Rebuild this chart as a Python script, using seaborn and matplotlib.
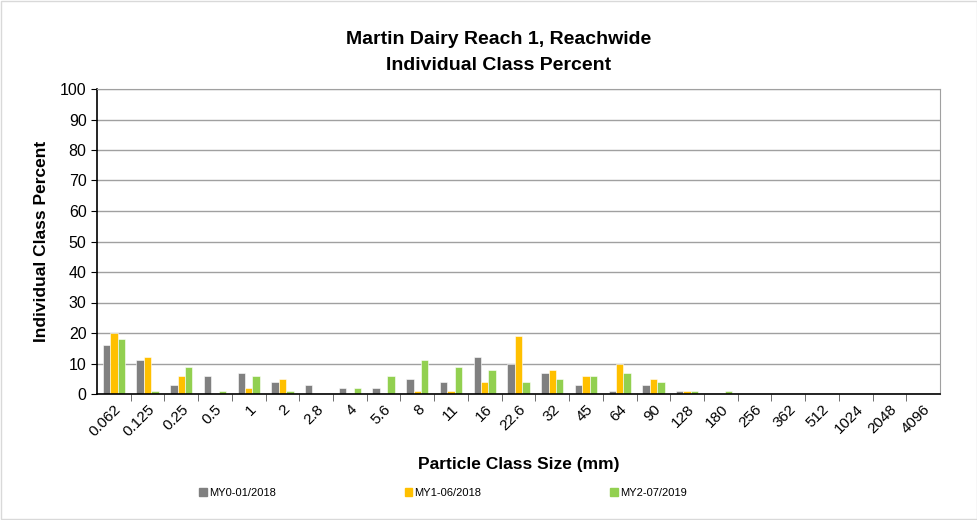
import matplotlib
matplotlib.use("Agg")
import matplotlib.pyplot as plt
import seaborn as sns
import pandas as pd

# Particle class sizes (mm)
sizes = ["0.062", "0.125", "0.25", "0.5", "1", "2", "2.8", "4", "5.6", "8", "11",
         "16", "22.6", "32", "45", "64", "90", "128", "180", "256", "362", "512",
         "1024", "2048", "4096"]

my0 = [16, 11, 3, 6, 7, 4, 3, 2, 2, 5, 4, 12, 10, 7, 3, 1, 3, 1, 0, 0, 0, 0, 0, 0, 0]
my1 = [20, 12, 6, 0, 2, 5, 0, 0, 0, 1, 1, 4, 19, 8, 6, 10, 5, 1, 0, 0, 0, 0, 0, 0, 0]
my2 = [18, 1, 9, 1, 6, 1, 0, 2, 6, 11, 9, 8, 4, 5, 6, 7, 4, 1, 1, 0, 0, 0, 0, 0, 0]
series = ["MY0-01/2018", "MY1-06/2018", "MY2-07/2019"]
colors = ["#808080", "#FFC000", "#92D050"]

n = len(sizes)
df = pd.DataFrame({
    "size": sizes * 3,
    "pct": my0 + my1 + my2,
    "survey": [series[0]] * n + [series[1]] * n + [series[2]] * n,
})

plt.rcParams['font.family'] = ['Liberation Sans', 'DejaVu Sans']

fig = plt.figure(figsize=(9.78, 5.2), dpi=100)
ax = fig.add_axes([97 / 978, 1 - 394 / 520, 843 / 978, 305 / 520])

sns.barplot(data=df, x="size", y="pct", hue="survey", order=sizes,
            hue_order=series, palette=colors, width=0.66, saturation=1,
            edgecolor="white", linewidth=0.4, ax=ax)

ax.set_ylim(0, 100)
ax.set_xlim(-0.5, len(sizes) - 0.5)
ax.set_yticks(range(0, 101, 10))
ax.tick_params(axis="y", labelsize=11.5, length=4, direction="out")
ax.set_xticks(range(len(sizes)))
ax.set_xticklabels(sizes, rotation=45, ha="right", rotation_mode="anchor", fontsize=11)
ax.tick_params(axis="x", length=0, pad=6)
# tick marks between categories
ax.set_xticks([i + 0.5 for i in range(len(sizes) - 1)], minor=True)
ax.tick_params(axis="x", which="minor", length=5, color="#555555")

ax.grid(axis="y", color="#A0A0A0", linewidth=1)
ax.set_axisbelow(True)
for side in ["top", "right"]:
    ax.spines[side].set_color("#A0A0A0")
for side in ["left", "bottom"]:
    ax.spines[side].set_color("black")
    ax.spines[side].set_linewidth(1.2)

ax.set_xlabel("Particle Class Size (mm)", fontsize=12.5, fontweight="bold", labelpad=13)
ax.set_ylabel("Individual Class Percent", fontsize=12.5, fontweight="bold", labelpad=8)
fig.suptitle("Martin Dairy Reach 1, Reachwide\nIndividual Class Percent",
             x=499 / 978, y=1 - 31 / 520, fontsize=14, fontweight="bold",
             linespacing=1.7)

ax.get_legend().remove()
handles = [plt.Rectangle((0, 0), 1, 1, color=c) for c in colors]
fig.legend(handles, series, loc="center", bbox_to_anchor=(443 / 978, 1 - 493 / 520),
           ncol=3, frameon=False, fontsize=8, handlelength=0.7, handleheight=0.7,
           handletextpad=0.2, columnspacing=11.6)

fig.patches.append(plt.Rectangle((0.001, 0.001), 0.998, 0.998, transform=fig.transFigure,
                                 fill=False, edgecolor="#D9D9D9", linewidth=1))

fig.savefig("out.png", dpi=100)
